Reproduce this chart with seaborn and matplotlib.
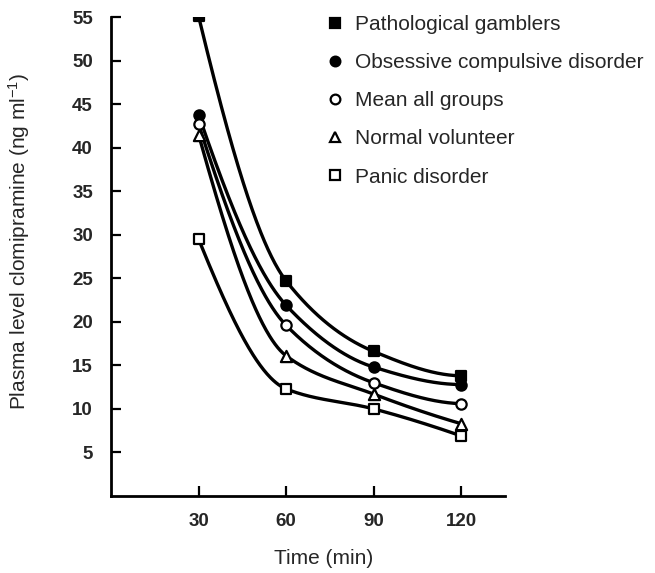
import numpy as np
import pandas as pd
import matplotlib
matplotlib.use("Agg")
import matplotlib.pyplot as plt
from matplotlib.lines import Line2D
import seaborn as sns

# ---- data ----
time_min = [30, 60, 90, 120]
series_names = ["Pathological gamblers", "Obsessive compulsive disorder",
                "Mean all groups", "Normal volunteer", "Panic disorder"]
pathological = [55.1, 24.7, 16.6, 13.8]
ocd = [43.8, 21.9, 14.8, 12.8]
mean_all = [42.7, 19.6, 13.0, 10.6]
normal = [41.5, 16.1, 11.7, 8.3]
panic = [29.5, 12.3, 10.0, 6.9]
y_ticks = [5, 10, 15, 20, 25, 30, 35, 40, 45, 50, 55]
x_ticks = [30, 60, 90, 120]

values = [pathological, ocd, mean_all, normal, panic]
markers = ["s", "o", "o", "^", "s"]
filled = [True, True, False, False, False]

sns.set_theme(style="ticks")
plt.rcParams['font.family'] = ['Liberation Sans', 'DejaVu Sans']
plt.rcParams['mathtext.fontset'] = 'custom'
plt.rcParams['mathtext.rm'] = 'Liberation Sans'
plt.rcParams['mathtext.it'] = 'Liberation Sans'

FS_TICK = 13.5
FS_TEXT = 15


def pchip(x, y, xn):
    """Monotone cubic (PCHIP) curve used only to draw a smooth line through the points."""
    x = np.asarray(x, float); y = np.asarray(y, float)
    h = np.diff(x); d = np.diff(y) / h
    n = len(x); m = np.zeros(n)
    for k in range(1, n - 1):
        if d[k - 1] * d[k] > 0:
            w1 = 2 * h[k] + h[k - 1]; w2 = h[k] + 2 * h[k - 1]
            m[k] = (w1 + w2) / (w1 / d[k - 1] + w2 / d[k])
    def endslope(h0, h1, d0, d1):
        s = ((2 * h0 + h1) * d0 - h0 * d1) / (h0 + h1)
        if np.sign(s) != np.sign(d0):
            s = 0.0
        elif np.sign(d0) != np.sign(d1) and abs(s) > abs(3 * d0):
            s = 3 * d0
        return s
    m[0] = endslope(h[0], h[1], d[0], d[1])
    m[-1] = endslope(h[-1], h[-2], d[-1], d[-2])
    idx = np.clip(np.searchsorted(x, xn) - 1, 0, n - 2)
    t = (xn - x[idx]) / h[idx]
    h00 = 2 * t**3 - 3 * t**2 + 1; h10 = t**3 - 2 * t**2 + t
    h01 = -2 * t**3 + 3 * t**2; h11 = t**3 - t**2
    return h00 * y[idx] + h10 * h[idx] * m[idx] + h01 * y[idx + 1] + h11 * h[idx] * m[idx + 1]


fig = plt.figure(figsize=(6.55, 5.73), dpi=100)
ax = fig.add_axes([111 / 655, 1 - 496 / 573, (505 - 111) / 655, (496 - 17) / 573])

xs = np.linspace(time_min[0], time_min[-1], 300)
handles = []
for name, vals, mk, fl in zip(series_names, values, markers, filled):
    curve = pd.DataFrame({"t": xs, "v": pchip(time_min, vals, xs)})
    sns.lineplot(data=curve, x="t", y="v", ax=ax, color="black", lw=2.4,
                 zorder=2, legend=False)
    pts = pd.DataFrame({"t": time_min, "v": vals})
    ms = 55 if mk != "^" else 65
    sns.scatterplot(data=pts, x="t", y="v", ax=ax, marker=mk, s=ms,
                    facecolor="black" if fl else "white", edgecolor="black",
                    linewidth=1.6, zorder=3, legend=False)
    handles.append(Line2D([], [], linestyle="none", marker=mk, markersize=7,
                          markerfacecolor="black" if fl else "white",
                          markeredgecolor="black", markeredgewidth=1.6,
                          label=name))

ax.set_xlim(0, 135)
ax.set_ylim(0, 55)
ax.set_xticks(x_ticks)
ax.set_yticks(y_ticks)
ax.set_xticklabels([str(v) for v in x_ticks], fontsize=FS_TICK, fontweight="bold")
ax.set_yticklabels([str(v) for v in y_ticks], fontsize=FS_TICK, fontweight="bold")
ax.tick_params(axis="both", direction="in", length=7, width=1.6, color="black")
ax.tick_params(axis="y", pad=13)
ax.tick_params(axis="x", pad=12)
for s in ["top", "right"]:
    ax.spines[s].set_visible(False)
for s in ["left", "bottom"]:
    ax.spines[s].set_linewidth(2.0)
    ax.spines[s].set_color("black")

ax.set_xlabel("Time (min)", fontsize=FS_TEXT)
ax.xaxis.set_label_coords((324 - 111) / (505 - 111), -(549 - 496) / (496 - 17))
ax.set_ylabel(r"Plasma level clomipramine (ng ml$^{-1}$)", fontsize=FS_TEXT)
ax.yaxis.set_label_coords(-(111 - 32) / (505 - 111), (496 - 241) / (496 - 17))

fig.legend(handles=handles, loc="upper left",
           bbox_to_anchor=(325 / 655, 1 - 15 / 573), frameon=False,
           fontsize=FS_TEXT, handlelength=1.0, handletextpad=0.45,
           labelspacing=0.92, borderpad=0, borderaxespad=0)

fig.savefig("out.png", dpi=100)
